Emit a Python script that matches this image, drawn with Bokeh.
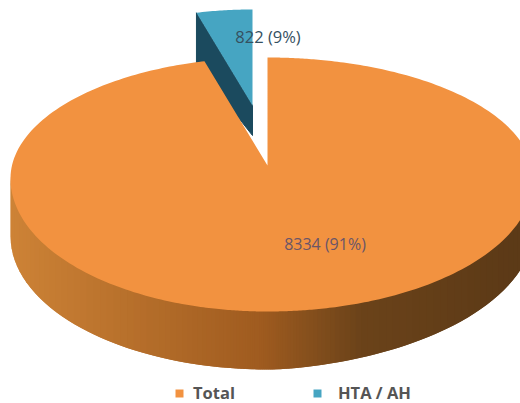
import numpy as np
from bokeh.core.properties import value
from bokeh.embed import file_html
from bokeh.models import Legend, LegendItem, Range1d
from bokeh.plotting import figure
from bokeh.resources import INLINE

categories = ["Total", "HTA / AH"]
counts = [8334, 822]
percents = [91, 9]
top_colors = ["#f29240", "#46a5c2"]
cut_color = "#1b4a5e"

# Side wall shading from the left of the page to the right
wall_stops = [0.0, 0.5, 0.7, 1.0]
wall_r = [208, 160, 107, 92]
wall_g = [133, 92, 67, 58]
wall_b = [56, 32, 26, 23]

# Pie projection, in page pixels
CX, CY = 267.0, 178.0
RX_LEFT, RX_RIGHT = 257.0, 266.0
RY_BACK, RY_FRONT = 121.0, 133.0
HUB = np.array([267.0, 165.0])
DEPTH_LEFT, DEPTH_RIGHT = 58.0, 50.0
LIFT = np.array([-15.0, -60.0])
SLICE_SCALE = 0.889
SQUEEZE = 0.35


def rim(theta):
    """Screen position of a clockwise angle from twelve o'clock on the tilted disc."""
    phi = theta - SQUEEZE * np.sin(2 * theta)
    ry = np.where(np.cos(phi) > 0, RY_BACK, RY_FRONT)
    rx = np.where(np.sin(phi) > 0, RX_RIGHT, RX_LEFT)
    return CX + rx * np.sin(phi), CY - ry * np.cos(phi)


def wall_depth(theta):
    return DEPTH_LEFT - (DEPTH_LEFT - DEPTH_RIGHT) * max(np.sin(theta), 0.0) ** 2


def wall_colour(x):
    t = np.clip(x / 520, 0, 1)
    return "#%02x%02x%02x" % (int(np.interp(t, wall_stops, wall_r)),
                              int(np.interp(t, wall_stops, wall_g)),
                              int(np.interp(t, wall_stops, wall_b)))


p = figure(width=520, height=403, output_backend="svg", toolbar_location=None,
           x_range=Range1d(0, 520), y_range=Range1d(403, 0),
           min_border=0, outline_line_color=None)
p.axis.visible = False
p.grid.visible = False
p.background_fill_color = "white"
p.border_fill_color = "white"

share = counts[0] / sum(counts)
end_angle = 2 * np.pi * share

# Raised slice: cut face first, then its top
slice_hub = HUB + LIFT
sl_angles = np.linspace(end_angle, 2 * np.pi, 30)
sx, sy = rim(sl_angles)
sx = slice_hub[0] + SLICE_SCALE * (sx - HUB[0])
sy = slice_hub[1] + SLICE_SCALE * (sy - HUB[1])
p.patch([sx[0], sx[0], slice_hub[0], slice_hub[0]],
        [sy[0], sy[0] + 52, slice_hub[1] + 30, slice_hub[1]],
        fill_color=cut_color, line_color=cut_color)
slice_top = p.patch(np.r_[slice_hub[0], sx], np.r_[slice_hub[1], sy],
                    fill_color=top_colors[1], line_color=None)

# Side wall of the main slice; each strip overlaps its neighbour to hide seams
wall_angles = np.radians(np.arange(270, 90 - 1.0, -1.5))
for a0, a1 in zip(wall_angles[:-1], wall_angles[1:]):
    a2 = a1 - np.radians(1.5)
    x0, y0 = rim(np.array(a0))
    x1, y1 = rim(np.array(a2))
    col = wall_colour((x0 + x1) / 2)
    p.patch([x0, x1, x1, x0],
            [y0 - 2, y1 - 2, y1 + wall_depth(a2), y0 + wall_depth(a0)],
            fill_color=col, line_color=None)

# Top of the main slice
main_angles = np.linspace(0, end_angle, 360)
mx, my = rim(main_angles)
main_top = p.patch(np.r_[HUB[0], mx], np.r_[HUB[1], my],
                   fill_color=top_colors[0], line_color=None)

labels = [f"{c} ({q}%)" for c, q in zip(counts, percents)]
p.text([324.5], [243], text=[labels[0]], text_font=value("Open Sans"),
       text_font_size="16px", text_color="#6a5568",
       text_align="center", text_baseline="middle")
p.text([267.5], [36], text=[labels[1]], text_font=value("Open Sans"),
       text_font_size="16.5px", text_color="#35505f",
       text_align="center", text_baseline="middle")

legend_style = dict(orientation="horizontal", background_fill_alpha=0,
                    border_line_color=None, glyph_width=10, glyph_height=10,
                    margin=0, padding=0, label_text_font="Open Sans",
                    label_text_font_size="16.5px", label_text_font_style="bold",
                    label_text_color="#555555")
p.add_layout(Legend(items=[LegendItem(label=categories[0], renderers=[main_top])],
                    location=(174, -1), label_standoff=9, **legend_style), "center")
p.add_layout(Legend(items=[LegendItem(label=categories[1], renderers=[slice_top])],
                    location=(312, -1), label_standoff=16, **legend_style), "center")

open("out.html", "w").write(file_html(p, INLINE))
